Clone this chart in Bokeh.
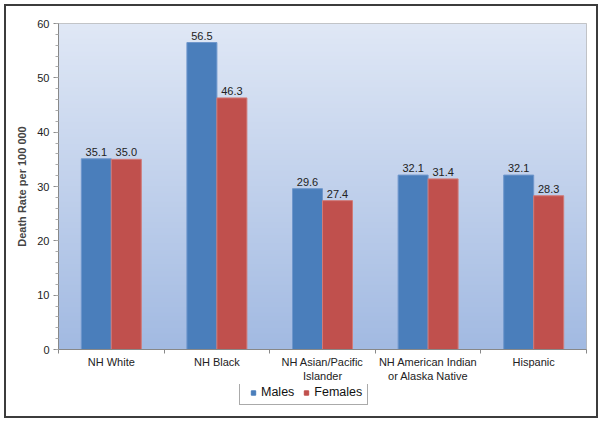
import numpy as np
from bokeh.core.properties import value
from bokeh.layouts import column
from bokeh.models import (
    ColumnDataSource, FixedTicker, SingleIntervalTicker, Range1d, Legend, LegendItem
)
from bokeh.plotting import figure
from bokeh.embed import file_html
from bokeh.resources import INLINE

# Data
groups = ["NH White", "NH Black", "NH Asian/Pacific\nIslander",
          "NH American Indian\nor Alaska Native", "Hispanic"]
series = ["Males", "Females"]
males = [35.1, 56.5, 29.6, 32.1, 32.1]
females = [35.0, 46.3, 27.4, 31.4, 28.3]

BLUE = "#4a7ebb"
RED = "#c0504d"
FONT = "Liberation Sans"

n = len(groups)
centers = np.arange(n) + 0.5
bar_w = 0.284

p = figure(
    width=590, height=378,
    x_range=Range1d(0, n), y_range=Range1d(0, 60),
    output_backend="svg", toolbar_location=None, tools="",
    min_border_left=52, min_border_right=10,
    min_border_top=17, min_border_bottom=35,
)

# gradient background of the plot area
top = np.array([224, 232, 246])
bot = np.array([162, 186, 226])
steps = 200
t = np.linspace(0, 1, steps)[:, None]
cols = (bot * (1 - t) + top * t).astype(np.uint8)
img = np.zeros((steps, 1), dtype=np.uint32)
view = img.view(dtype=np.uint8).reshape((steps, 1, 4))
view[:, 0, :3] = cols
view[:, 0, 3] = 255
p.image_rgba(image=[img], x=0, y=0, dw=n, dh=60)

src = ColumnDataSource(dict(
    xm=centers - bar_w / 2, xf=centers + bar_w / 2,
    males=males, females=females,
    ml=[f"{v:.1f}" for v in males], fl=[f"{v:.1f}" for v in females],
))

p.vbar(x="xm", top="males", width=bar_w, source=src,
       fill_color=BLUE, line_color="#6f97cc", line_width=1)
p.vbar(x="xf", top="females", width=bar_w, source=src,
       fill_color=RED, line_color="#d07a77", line_width=1)

for xcol, ycol, tcol in (("xm", "males", "ml"), ("xf", "females", "fl")):
    p.text(x=xcol, y=ycol, text=tcol, source=src, y_offset=-3,
           text_align="center", text_baseline="bottom",
           text_font_size="11px", text_color="#222222", text_font=value(FONT))

p.grid.grid_line_color = None
p.background_fill_color = "white"
p.border_fill_color = "white"
p.outline_line_color = "#b8b8b8"
p.outline_line_width = 1

# x axis: labels at group centers, tick marks at group boundaries
p.xaxis.ticker = FixedTicker(ticks=list(centers), minor_ticks=list(range(n + 1)))
p.xaxis.major_label_overrides = {float(c): g for c, g in zip(centers, groups)}
p.xaxis.major_tick_line_color = None
p.xaxis.minor_tick_line_color = "#888888"
p.xaxis.minor_tick_in = 0
p.xaxis.minor_tick_out = 4
p.xaxis.major_label_standoff = 0

# y axis
p.yaxis.ticker = SingleIntervalTicker(interval=10, num_minor_ticks=5)
p.yaxis.axis_label = "Death Rate per 100 000"
p.yaxis.axis_label_text_font_style = "bold"
p.yaxis.axis_label_text_font_size = "11px"
p.yaxis.axis_label_text_font = FONT
p.yaxis.axis_label_standoff = 6
p.yaxis.major_tick_in = 0
p.yaxis.major_tick_out = 5
p.yaxis.minor_tick_in = 0
p.yaxis.minor_tick_out = 3
p.yaxis.major_tick_line_color = "#888888"
p.yaxis.minor_tick_line_color = "#aaaaaa"
p.yaxis.major_label_standoff = 4

p.axis.axis_line_color = "#888888"
p.axis.major_label_text_font = FONT
p.axis.major_label_text_font_size = "11px"
p.axis.major_label_text_color = "#222222"

# legend strip underneath, in its own small figure
pl = figure(
    width=590, height=32, x_range=Range1d(0, 1), y_range=Range1d(0, 1),
    output_backend="svg", toolbar_location=None, tools="",
    min_border=0,
)
pl.axis.visible = False
pl.grid.grid_line_color = None
pl.outline_line_color = None
# swatch proxies, kept outside the visible range
lm = pl.scatter(x=[-5], y=[-5], marker="square", size=7, fill_color=BLUE, line_color=BLUE)
lf = pl.scatter(x=[-5], y=[-5], marker="square", size=7, fill_color=RED, line_color=RED)

legend = Legend(
    items=[LegendItem(label=series[0], renderers=[lm]),
           LegendItem(label=series[1], renderers=[lf])],
    orientation="horizontal", location=(181, 11),
    label_text_font=FONT, label_text_font_size="12.5px", label_text_color="#111111",
    glyph_width=16, glyph_height=11, label_standoff=0, spacing=4,
    padding=5, margin=0, label_height=11,
    border_line_color="#555555", border_line_width=1,
    background_fill_alpha=1.0,
)
pl.add_layout(legend, "center")

layout = column(p, pl, spacing=0,
                styles={"border": "2px solid #3c3c3c", "margin": "4px"})

open("out.html", "w").write(file_html(layout, INLINE))
